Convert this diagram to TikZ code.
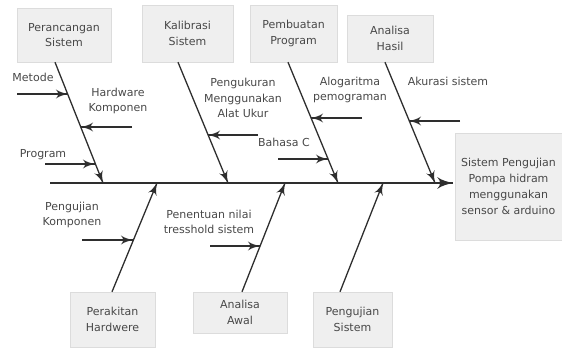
\documentclass[tikz,border=0pt]{standalone}
\usepackage{fontspec}
\setmainfont{DejaVu Sans}
\usetikzlibrary{arrows}
\usetikzlibrary{decorations.markings}
\definecolor{boxfill}{HTML}{EFEFEF}
\definecolor{boxline}{HTML}{DCDCDC}
\definecolor{ink}{HTML}{484848}
\definecolor{bonecol}{HTML}{2E2E2E}
\tikzset{->/.style = {decoration={markings,
                                  mark=at position 1 with {\arrow[scale=1.8]{latex'}}},
                      postaction={decorate}}}
\tikzset{box/.style = {draw=boxline, fill=boxfill, text=ink, align=center, inner sep=0}}
\tikzset{lbl/.style = {text=ink, align=center, inner sep=0}}
\tikzset{bone/.style = {draw=bonecol, line width=1.3pt}}
\tikzset{spine/.style = {draw=bonecol, line width=2pt}}

\begin{document}
\begin{tikzpicture}[x=1pt, y=-1pt, font=\fontsize{11}{15.5}\selectfont]
      \useasboundingbox (0,0) rectangle (562,348);
      % kategori
      \node [box, minimum width=94, minimum height=54] (rancang) at (64,35) {Perancangan\\Sistem};
      \node [box, minimum width=91, minimum height=57] (kalibrasi) at (187.5,33.5) {Kalibrasi\\Sistem};
      \node [box, minimum width=87, minimum height=57] (buat) at (293.5,33.5) {Pembuatan\\Program};
      \node [box, minimum width=86, minimum height=47] (hasil) at (390,38.5) {Analisa\\Hasil};
      \node [box, minimum width=85, minimum height=55] (rakit) at (112.5,319.5) {Perakitan\\Hardwere};
      \node [box, minimum width=94, minimum height=41] (awal) at (240,312.5) {Analisa\\Awal};
      \node [box, minimum width=79, minimum height=55] (ujisistem) at (352.5,319.5) {Pengujian\\Sistem};
      \node [box, minimum width=107, minimum height=107, font=\fontsize{11}{16}\selectfont] (sistem) at (508.5,186.5)
            {Sistem Pengujian\\Pompa hidram\\menggunakan\\sensor \& arduino};
      % tulang utama
      \coordinate (tail) at (50,183);
      \coordinate (head) at (453,183);
      \draw [spine, ->] (tail) -- (head);
      \coordinate (t1) at (103,183);
      \coordinate (t2) at (228,183);
      \coordinate (t3) at (338,183);
      \coordinate (t4) at (435,183);
      \coordinate (b1) at (157,183);
      \coordinate (b2) at (285,183);
      \coordinate (b3) at (383,183);
      \draw [bone, ->] ([xshift=-9]rancang.south) -- (t1);
      \draw [bone, ->] ([xshift=-9.5]kalibrasi.south) -- (t2);
      \draw [bone, ->] ([xshift=-5.5]buat.south) -- (t3);
      \draw [bone, ->] ([xshift=-5]hasil.south) -- (t4);
      \draw [bone, ->] ([xshift=-0.5]rakit.north) -- (b1);
      \draw [bone, ->] ([xshift=2]awal.north) -- (b2);
      \draw [bone, ->] ([xshift=-12.5]ujisistem.north) -- (b3);
      % sebab
      \coordinate (metode) at (17,94);
      \coordinate (metode tip) at (68,94);
      \coordinate (hw) at (132,127);
      \coordinate (hw tip) at (81,127);
      \coordinate (prog) at (45,164);
      \coordinate (prog tip) at (95,164);
      \coordinate (ukur) at (258,135);
      \coordinate (ukur tip) at (208,135);
      \coordinate (bahasa) at (278,159);
      \coordinate (bahasa tip) at (328,159);
      \coordinate (algo) at (362,118);
      \coordinate (algo tip) at (311,118);
      \coordinate (akurasi) at (460,121);
      \coordinate (akurasi tip) at (409,121);
      \coordinate (ujikomp) at (82,240);
      \coordinate (ujikomp tip) at (133,240);
      \coordinate (nilai) at (210,246);
      \coordinate (nilai tip) at (260,246);
      \foreach \c in {metode, hw, prog, ukur, bahasa, algo, akurasi, ujikomp, nilai}
        \draw [bone, ->] (\c) -- (\c\space tip);
      \node [lbl] (lmetode) at (33,77) {Metode};
      \node [lbl] (lhw) at (118,101) {Hardware\\Komponen};
      \node [lbl] (lprog) at (43,155) {Program};
      \node [lbl] (lukur) at (243,98) {Pengukuran\\Menggunakan\\Alat Ukur};
      \node [lbl] (lbahasa) at (284,142) {Bahasa C};
      \node [lbl] (lalgo) at (350,90) {Alogaritma\\pemograman};
      \node [lbl] (lakurasi) at (448,81) {Akurasi sistem};
      \node [lbl] (lujikomp) at (72,215) {Pengujian\\Komponen};
      \node [lbl] (lnilai) at (209,222) {Penentuan nilai\\tresshold sistem};
    \end{tikzpicture}
\end{document}
